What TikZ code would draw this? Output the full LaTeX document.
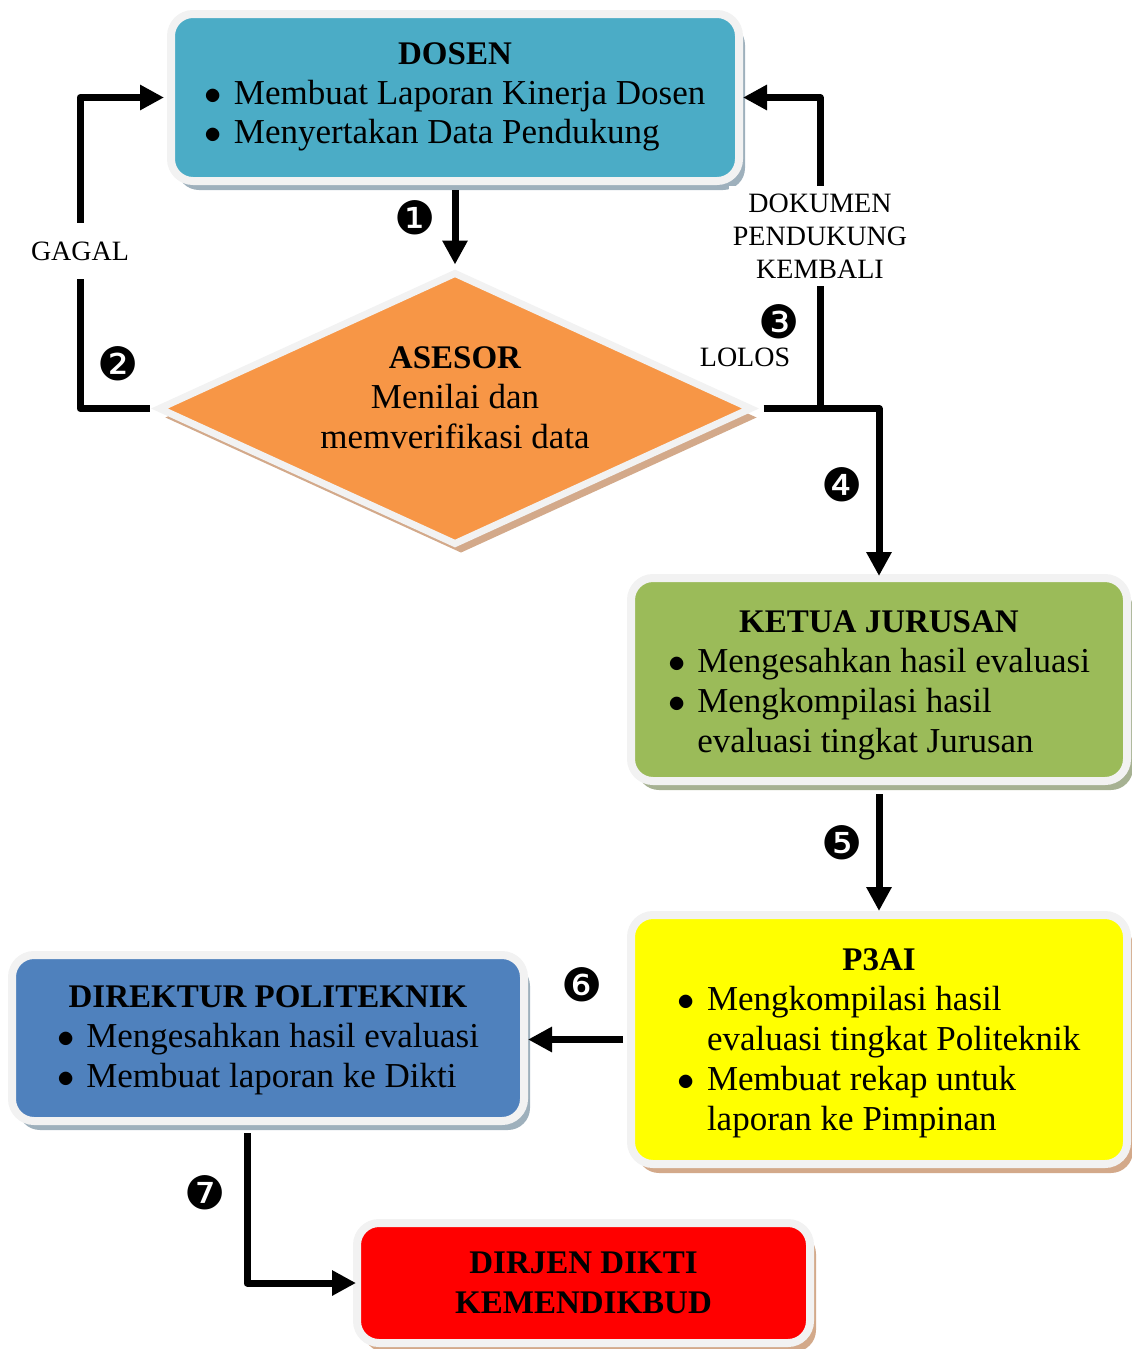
\documentclass[tikz,border=0pt]{standalone}
\usepackage{fontspec}
\setmainfont{Liberation Serif}
\newfontfamily\dingfont{DejaVu Sans}
\usetikzlibrary{shapes.geometric,shadows,arrows.meta}

\definecolor{dosenteal}{HTML}{4BACC6}
\definecolor{asesororange}{HTML}{F79646}
\definecolor{ketuagreen}{HTML}{9BBB59}
\definecolor{pyellow}{HTML}{FFFF00}
\definecolor{direkturblue}{HTML}{4F81BD}
\definecolor{dirjenred}{HTML}{FF0000}
\definecolor{ringgray}{HTML}{F2F2F2}
\definecolor{shadowblue}{HTML}{9EB0BC}
\definecolor{shadowgreen}{HTML}{A6B192}
\definecolor{shadowtan}{HTML}{D3A98A}

\newcommand{\bodytext}{\fontsize{17.5}{20}\selectfont}
\newcommand{\titletext}{\fontsize{16.5}{20}\selectfont\bfseries}
\newcommand{\bul}{$\bullet$}

\tikzset{
  stepbox/.style={rectangle, rounded corners=11pt, draw=ringgray, line width=4pt,
    align=center, inner sep=0pt, font=\bodytext},
  boxshadow/.style={drop shadow={shadow xshift=3pt, shadow yshift=-4.5pt, fill=#1, opacity=1}},
  flowline/.style={line width=3.5pt, line join=round},
  flowarrow/.style={flowline, -{Triangle[width=12pt,length=12pt]}},
  sidelabel/.style={fill=white, font=\fontsize{14}{16.5}\selectfont, align=center},
  numtag/.style={font=\dingfont\fontsize{23}{23}\selectfont, inner sep=0pt},
}

\begin{document}
\begin{tikzpicture}[x=0.5pt,y=-0.5pt]
\useasboundingbox (0,0) rectangle (1131,1349);

% boxes
\node[stepbox, boxshadow=shadowblue, fill=dosenteal, minimum width=284pt, minimum height=83.5pt] (dosen) at (455,97.5)
  {{\titletext\rule{0pt}{12.5pt}DOSEN}\\
   \begin{tabular}[t]{@{}c@{\hspace{6pt}}l@{}}
   \bul & Membuat Laporan Kinerja Dosen\\
   \bul & Menyertakan Data Pendukung
   \end{tabular}};
\node[diamond, draw=ringgray, line width=3.5pt, fill=asesororange, boxshadow=shadowtan, aspect=2.2, inner sep=0pt,
  minimum width=297pt, minimum height=136.5pt, align=center, font=\bodytext] (asesor) at (455,408.5)
  {{\titletext ASESOR}\\ Menilai dan\\ memverifikasi data\rule[-11pt]{0pt}{11pt}};
\node[stepbox, boxshadow=shadowgreen, fill=ketuagreen, minimum width=248pt, minimum height=101.5pt] (ketua) at (879,679.5)
  {{\titletext\rule{0pt}{19pt}KETUA JURUSAN}\\
   \begin{tabular}[t]{@{}c@{\hspace{6pt}}l@{}}
   \bul & Mengesahkan hasil evaluasi\\
   \bul & Mengkompilasi hasil\\
   & evaluasi tingkat Jurusan
   \end{tabular}};
\node[stepbox, boxshadow=shadowtan, fill=pyellow, minimum width=248pt, minimum height=124.5pt] (p3ai) at (879,1039.5)
  {{\titletext\rule{0pt}{16.5pt}P3AI}\\
   \begin{tabular}[t]{@{}c@{\hspace{6pt}}l@{}}
   \bul & Mengkompilasi hasil\\
   & evaluasi tingkat Politeknik\\
   \bul & Membuat rekap untuk\\
   & laporan ke Pimpinan
   \end{tabular}};
\node[stepbox, boxshadow=shadowblue, fill=direkturblue, minimum width=256pt, minimum height=83pt] (direktur) at (268,1038)
  {{\titletext\rule{0pt}{15pt}DIREKTUR POLITEKNIK}\\
   \begin{tabular}[t]{@{}c@{\hspace{6pt}}l@{}}
   \bul & Mengesahkan hasil evaluasi\\
   \bul & Membuat laporan ke Dikti
   \end{tabular}};
\node[stepbox, boxshadow=shadowtan, fill=dirjenred, minimum width=226.5pt, minimum height=60pt, font=\titletext] (dirjen) at (583.5,1283)
  {DIRJEN DIKTI\\ KEMENDIKBUD};

% connectors
\coordinate (leftrail) at (80,250);
\coordinate (rightrail) at (820,250);
\coordinate (downrail) at (247,1200);
\draw[flowarrow, shorten <=2.5pt, shorten >=2pt] (dosen.south) -- (asesor.north);
\draw[flowarrow, shorten <=2.5pt, shorten >=1.5pt] (asesor.west) -| (leftrail) |- (dosen.west);
\draw[flowarrow, shorten <=4pt, shorten >=-1pt] (asesor.east) -| (ketua.north);
\draw[flowarrow, shorten >=0pt] (asesor.east -| rightrail) |- (dosen.east);
\draw[flowarrow, shorten <=4.5pt, shorten >=0pt] (ketua.south) -- (p3ai.north);
\draw[flowarrow, shorten <=2pt, shorten >=0pt] (p3ai.west) -- (p3ai.west -| direktur.east);
\draw[flowarrow, shorten <=4pt, shorten >=-1.5pt] (direktur.south -| downrail) |- (dirjen.west);

% labels
\node[sidelabel, inner xsep=2pt, inner ysep=9.5pt] (gagal) at (80,251) {GAGAL};
\node[sidelabel, inner xsep=2pt, inner ysep=4pt] (kembali) at (820,236) {DOKUMEN\\ PENDUKUNG\\ KEMBALI};
\node[sidelabel, fill=none] (lolos) at (745,357) {LOLOS};
\node[numtag] (n1) at (415,218) {❶};
\node[numtag] (n2) at (118,364) {❷};
\node[numtag] (n3) at (779,322) {❸};
\node[numtag] (n4) at (842,485) {❹};
\node[numtag] (n5) at (842,843) {❺};
\node[numtag] (n6) at (582,985) {❻};
\node[numtag] (n7) at (205,1193) {❼};
\end{tikzpicture}
\end{document}
